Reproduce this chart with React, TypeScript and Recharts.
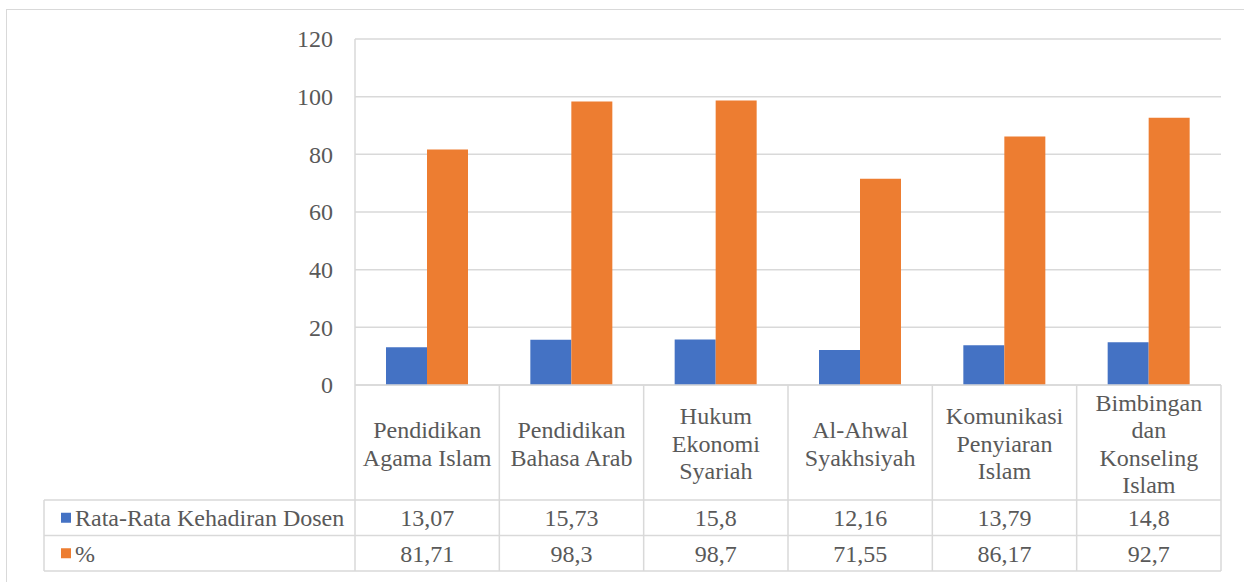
import React from "react";
import { BarChart, Bar, XAxis, YAxis, CartesianGrid } from "recharts";

const categories = [
  "Pendidikan\nAgama Islam",
  "Pendidikan\nBahasa Arab",
  "Hukum\nEkonomi\nSyariah",
  "Al-Ahwal\nSyakhsiyah",
  "Komunikasi\nPenyiaran\nIslam",
  "Bimbingan\ndan\nKonseling\nIslam",
];
const kehadiran = [13.07, 15.73, 15.8, 12.16, 13.79, 14.8];
const persen = [81.71, 98.3, 98.7, 71.55, 86.17, 92.7];
const seriesNames = ["Rata-Rata Kehadiran Dosen", "%"];
const yTicks = [0, 20, 40, 60, 80, 100, 120];

const data = categories.map((name, i) => ({
  name,
  kehadiran: kehadiran[i],
  persen: persen[i],
}));

const W = 1244;
const H = 582;
const PLOT_LEFT = 355;
const PLOT_RIGHT = 1221;
const PLOT_TOP = 39;
const PLOT_BOTTOM = 385;
const HEADER_BOTTOM = 500;
const ROW_H = 35.5;
const TABLE_LEFT = 44;
const TABLE_BOTTOM = HEADER_BOTTOM + ROW_H * 2;
const BAND = (PLOT_RIGHT - PLOT_LEFT) / categories.length;

const GRID = "#d9d9d9";
const TEXT = "#595959";
const BLUE = "#4472C4";
const ORANGE = "#ED7D31";
const FONT = '"Liberation Serif", "Times New Roman", serif';
const FS = 24;
const LINE_H = 27.5;
const textStyle = { fontFamily: FONT, fontSize: FS, fill: TEXT };

const fmt = (v: number) => String(v).replace(".", ",");

const YTick = (props: any) => {
  const { x, y, payload } = props;
  return (
    <text x={x} y={y} dy="0.35em" textAnchor="end" style={textStyle}>
      {payload.value}
    </text>
  );
};

// category header + data table column, drawn under each x tick
const TableTick = (props: any) => {
  const { x, payload } = props;
  let i = props.index ?? payload?.index;
  if (i === undefined) i = categories.indexOf(payload.value);
  const right = x + BAND / 2;
  const lines = categories[i].split("\n");
  const headerMid = (PLOT_BOTTOM + HEADER_BOTTOM) / 2 + 1;
  const firstY = headerMid - ((lines.length - 1) * LINE_H) / 2;
  const rowVals = [fmt(kehadiran[i]), fmt(persen[i])];

  return (
    <g>
      {i === 0 && (
        <g>
          <line x1={PLOT_LEFT} y1={PLOT_BOTTOM} x2={PLOT_LEFT} y2={TABLE_BOTTOM} stroke={GRID} strokeWidth={1.5} />
          <line x1={TABLE_LEFT} y1={HEADER_BOTTOM} x2={TABLE_LEFT} y2={TABLE_BOTTOM} stroke={GRID} strokeWidth={1.5} />
          {[0, 1, 2].map((r) => (
            <line
              key={r}
              x1={TABLE_LEFT}
              y1={HEADER_BOTTOM + r * ROW_H}
              x2={PLOT_RIGHT}
              y2={HEADER_BOTTOM + r * ROW_H}
              stroke={GRID}
              strokeWidth={1.5}
            />
          ))}
          {seriesNames.map((s, r) => {
            const cy = HEADER_BOTTOM + r * ROW_H + ROW_H / 2;
            return (
              <g key={s}>
                <rect x={61} y={cy - 5} width={10} height={10} fill={r === 0 ? BLUE : ORANGE} />
                <text x={75} y={cy} dy="0.35em" textAnchor="start" style={textStyle}>
                  {s}
                </text>
              </g>
            );
          })}
        </g>
      )}
      <line x1={right} y1={PLOT_BOTTOM} x2={right} y2={TABLE_BOTTOM} stroke={GRID} strokeWidth={1.5} />
      <text textAnchor="middle" style={textStyle}>
        {lines.map((l, k) => (
          <tspan key={k} x={x} y={firstY + k * LINE_H} dy="0.35em">
            {l}
          </tspan>
        ))}
      </text>
      {rowVals.map((v, r) => (
        <text
          key={r}
          x={x}
          y={HEADER_BOTTOM + r * ROW_H + ROW_H / 2}
          dy="0.35em"
          textAnchor="middle"
          style={textStyle}
        >
          {v}
        </text>
      ))}
    </g>
  );
};

export default function App() {
  const yAxisWidth = 60;
  const xAxisHeight = 190;
  return (
    <div
      style={{
        position: "fixed",
        left: 0,
        top: 0,
        width: W,
        height: H,
        overflow: "hidden",
        background: "#fff",
        fontFamily: FONT,
      }}
    >
      <div
        style={{
          position: "absolute",
          left: 6,
          top: 9,
          width: W + 20,
          height: H + 20,
          border: `1.5px solid ${GRID}`,
        }}
      />
      <div style={{ position: "absolute", left: 0, top: 0 }}>
        <BarChart
          width={W}
          height={H}
          data={data}
          margin={{
            top: PLOT_TOP,
            right: W - PLOT_RIGHT,
            bottom: H - PLOT_BOTTOM - xAxisHeight,
            left: PLOT_LEFT - yAxisWidth,
          }}
          barCategoryGap={31}
          barGap={0}
        >
          <CartesianGrid horizontal vertical={false} stroke={GRID} strokeWidth={1.5} />
          <XAxis
            dataKey="name"
            height={xAxisHeight}
            axisLine={{ stroke: GRID, strokeWidth: 1.5 }}
            tickLine={false}
            interval={0}
            tick={<TableTick />}
          />
          <YAxis
            width={yAxisWidth}
            domain={[0, 120]}
            ticks={yTicks}
            axisLine={{ stroke: GRID, strokeWidth: 1.5 }}
            tickLine={false}
            tickSize={0}
            tickMargin={22}
            tick={<YTick />}
          />
          <Bar dataKey="kehadiran" name={seriesNames[0]} fill={BLUE} isAnimationActive={false} />
          <Bar dataKey="persen" name={seriesNames[1]} fill={ORANGE} isAnimationActive={false} />
        </BarChart>
      </div>
    </div>
  );
}
